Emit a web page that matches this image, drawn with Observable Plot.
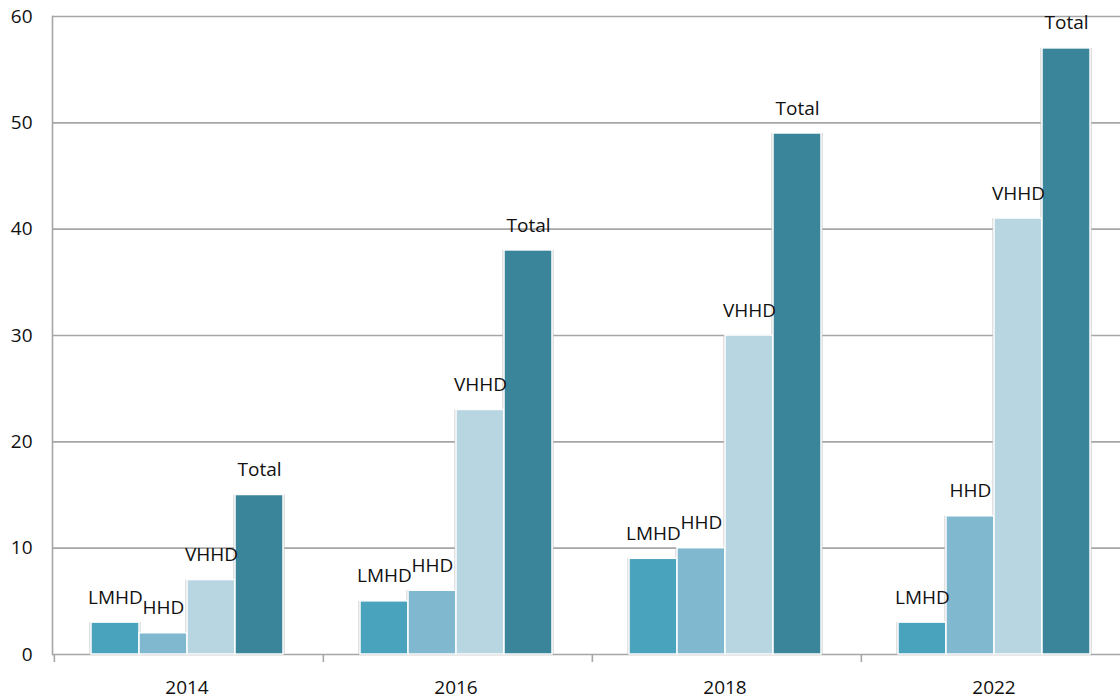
<!DOCTYPE html>
<html>
<head>
<meta charset="utf-8">
<script src="https://cdn.jsdelivr.net/npm/d3@7"></script>
<script src="https://cdn.jsdelivr.net/npm/@observablehq/plot@0.6"></script>
<style>
  html, body { margin: 0; padding: 0; background: #fff; overflow: hidden; }
  #chart { width: 1120px; height: 700px; overflow: hidden; }
  #chart svg { display: block; max-width: none !important; }
</style>
</head>
<body>
<div id="chart"></div>
<script>
const years = ["2014", "2016", "2018", "2022"];
const series = ["LMHD", "HHD", "VHHD", "Total"];
const LMHD  = [3, 5, 9, 3];
const HHD   = [2, 6, 10, 13];
const VHHD  = [7, 23, 30, 41];
const Total = [15, 38, 49, 57];
const colors = ["#4aa3bc", "#80b9cf", "#b8d6e1", "#3a8599"];
const yTicks = [0, 10, 20, 30, 40, 50, 60];

const valuesBySeries = {LMHD, HHD, VHHD, Total};
const data = [];
years.forEach((yr, i) => series.forEach(s => data.push({year: yr, series: s, value: valuesBySeries[s][i]})));

const W = 1128, H = 700;
const mL = 52, mR = 0, mT = 16, mB = 46;
const outerPad = 0.75;
const facetW = (W - mL - mR) / years.length;
const step = facetW / (series.length + 2 * outerPad);
const firstCenterOffset = step * (outerPad + 0.5);

const font = "'Open Sans', 'Liberation Sans', sans-serif";

const chart = Plot.plot({
  width: W,
  height: H,
  marginLeft: mL,
  marginRight: mR,
  marginTop: mT,
  marginBottom: mB,
  style: {fontFamily: font, fontSize: "19px", color: "#111", background: "#fff", maxWidth: "none"},
  fx: {domain: years, padding: 0, label: null, axis: null},
  x: {domain: series, paddingInner: 0, paddingOuter: outerPad, axis: null},
  y: {domain: [0, 60], label: null, axis: null},
  color: {domain: series, range: colors},
  marks: [
    Plot.ruleY(yTicks, {stroke: "#a6a6a6", strokeWidth: 1.6}),
    Plot.frame({anchor: "left", stroke: "#a6a6a6", strokeWidth: 1.6, facetAnchor: "left"}),
    Plot.ruleX(years, {fx: d => d, x: () => "LMHD", y1: 0, y2: -0.75, dx: -firstCenterOffset, stroke: "#a6a6a6", strokeWidth: 1.6}),
    Plot.axisY({ticks: yTicks, tickSize: 0, tickPadding: 20, fontSize: 19, label: null}),
    Plot.axisFx({anchor: "bottom", tickSize: 0, tickPadding: 26, fontSize: 19, label: null}),
    Plot.barY(data, {fx: "year", x: "series", y: "value", fill: "#c4c4c4", insetLeft: -1.5, insetRight: -1.5}),
    Plot.barY(data, {fx: "year", x: "series", y: "value", fill: "series", stroke: "#fff", strokeWidth: 1.5}),
    Plot.text(data, {fx: "year", x: "series", y: "value", text: "series", dy: -25, fontSize: 19, fill: "#111", lineAnchor: "middle"})
  ]
});
document.getElementById("chart").appendChild(chart);
</script>
</body>
</html>
